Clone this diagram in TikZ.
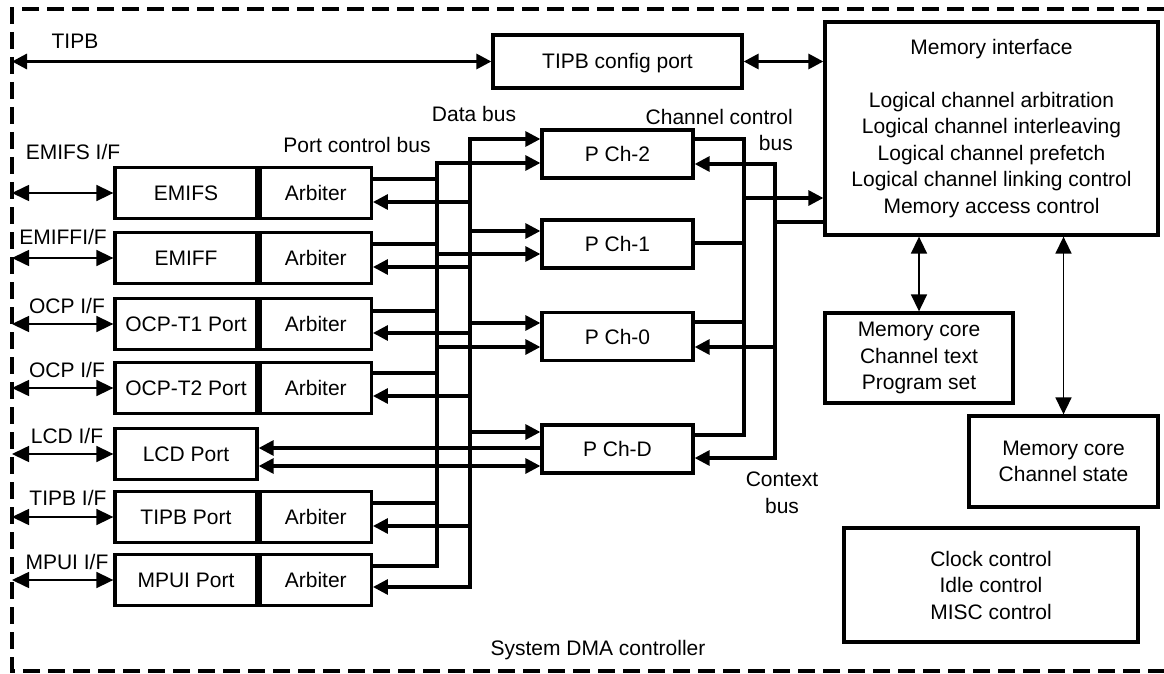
\documentclass[tikz,border=0pt]{standalone}
\usepackage{fontspec}
\setmainfont{Liberation Sans}
\usetikzlibrary{arrows.meta}
\begin{document}
\begin{tikzpicture}[x=1pt,y=-1pt,
  font=\fontsize{21}{26.5}\selectfont,
  >={Triangle[length=15pt,width=15pt]},
  blk/.style={draw,line width=3.3pt,inner sep=0pt},
  one/.style={blk,text height=15pt,text depth=0pt},
  many/.style={blk,align=center},
  port/.style={one,minimum width=142pt,minimum height=51pt},
  arb/.style={one,minimum width=111pt,minimum height=51pt,anchor=west},
  pch/.style={one,minimum width=151pt,minimum height=48pt},
  bus/.style={line width=3.2pt},
  wire/.style={line width=1.6pt,>={Triangle[length=17pt,width=16pt]}},
  lbl/.style={inner sep=0pt,anchor=base},
  frame/.style={line width=3.2pt,dash pattern=on 17pt off 8pt}]

\useasboundingbox (0,0) rectangle (1164,674);

% controller boundary
\draw[frame] (1164,9) -- (12,9) -- (12,671) -- (1164,671);
\coordinate (frameL) at (12,0);

% port blocks
\node[port] (emifs) at (186,193) {EMIFS};
\node[arb]  (arbA) at (emifs.east) {Arbiter};
\node[port] (emiff) at (186,258) {EMIFF};
\node[arb]  (arbB) at (emiff.east) {Arbiter};
\node[port] (ocpa) at (186,324) {OCP-T1 Port};
\node[arb]  (arbC) at (ocpa.east) {Arbiter};
\node[port] (ocpb) at (186,388) {OCP-T2 Port};
\node[arb]  (arbD) at (ocpb.east) {Arbiter};
\node[port] (lcd) at (186,454) {LCD Port};
\node[port] (tipbp) at (186,517) {TIPB Port};
\node[arb]  (arbE) at (tipbp.east) {Arbiter};
\node[port] (mpui) at (186,580) {MPUI Port};
\node[arb]  (arbF) at (mpui.east) {Arbiter};

% interface labels
\node[lbl] (tipbLbl) at (75,49) {TIPB};
\node[lbl] (lA) at (73,160) {EMIFS I/F};
\node[lbl] (lB) at (63,244) {EMIFFI/F};
\node[lbl] (lC) at (67,313) {OCP I/F};
\node[lbl] (lD) at (67,377) {OCP I/F};
\node[lbl] (lE) at (67,443) {LCD I/F};
\node[lbl] (lF) at (68,505) {TIPB I/F};
\node[lbl] (lG) at (67,569) {MPUI I/F};

% external interfaces
\foreach \p in {emifs,emiff,ocpa,ocpb,lcd,tipbp,mpui}
  \draw[wire,<->] (\p.west -| frameL) -- (\p.west);

% physical channels
\node[pch] (pch2) at (617.5,154) {P Ch-2};
\node[pch] (pch1) at (617.5,244) {P Ch-1};
\node[pch] (pch0) at (617.5,336.5) {P Ch-0};
\node[pch] (pchd) at (617.5,449) {P Ch-D};

% TIPB configuration path
\node[one,minimum width=249pt,minimum height=53pt] (cfg) at (617.5,61.5) {TIPB config port};
\node[many,minimum width=333pt,minimum height=213pt] (mi) at (991.5,128.5)
  {Memory interface\\[26.5pt]Logical channel arbitration\\Logical channel interleaving\\
   Logical channel prefetch\\Logical channel linking control\\Memory access control};
\coordinate (tipbL) at (12,61.5);
\draw[bus,<->] (tipbL) -- (cfg.west);
\draw[bus,<->] (cfg.east) -- (cfg.east -| mi.west);

% memories and misc
\node[many,minimum width=188pt,minimum height=90pt] (mc1) at (919,358)
  {Memory core\\Channel text\\Program set};
\node[many,minimum width=189pt,minimum height=91pt] (mc2) at (1063.5,461.5)
  {Memory core\\Channel state};
\node[many,minimum width=294pt,minimum height=114pt] (clk) at (991,585)
  {Clock control\\Idle control\\MISC control};
\draw[wire,<->] (mc1.north |- mi.south) -- (mc1.north);
\draw[wire,<->] (mc2.north |- mi.south) -- (mc2.north);

% port control bus (x=437) and data bus (x=470)
\foreach \a/\u/\l in {arbA/179/202, arbB/244/267, arbC/311/333, arbD/373/396, arbE/503/526} {
  \coordinate (cu) at (437,\u);
  \coordinate (dl) at (470,\l);
  \draw[bus] (\a.east |- cu) -- (cu);
  \draw[bus,->] (dl) -- (\a.east |- dl);
}
\coordinate (cTop) at (437,163);
\coordinate (cBot) at (437,566);
\coordinate (dTop) at (470,139);
\coordinate (dBot) at (470,587);
\draw[bus,->] (arbF.east |- cBot) -- (cBot) -- (cTop) -- (pch2.west |- cTop);
\draw[bus,<->] (arbF.east |- dBot) -- (dBot) -- (dTop) -- (pch2.west |- dTop);
\foreach \c/\y in {pch1/231, pch0/323, pchd/432} {
  \coordinate (dj) at (470,\y);
  \draw[bus,->] (dj) -- (\c.west |- dj);
}
\foreach \c/\y in {pch1/254, pch0/347} {
  \coordinate (cj) at (437,\y);
  \draw[bus,->] (cj) -- (\c.west |- cj);
}

% LCD port to P Ch-D
\coordinate (lcdA) at (400,448);
\coordinate (lcdB) at (400,466);
\draw[bus,<-] (lcd.east |- lcdA) -- (pchd.west |- lcdA);
\draw[bus,<->] (lcd.east |- lcdB) -- (pchd.west |- lcdB);

% channel control bus (x=744)
\coordinate (kTop) at (744,139);
\coordinate (kBot) at (744,435);
\draw[bus] (pch2.east |- kTop) -- (kTop) -- (kBot) -- (pchd.east |- kBot);
\foreach \c/\y in {pch1/243, pch0/322} {
  \coordinate (kj) at (744,\y);
  \draw[bus] (\c.east |- kj) -- (kj);
}
\coordinate (kOut) at (742,198);
\draw[bus,->] (kOut) -- (mi.west |- kOut);

% context bus (x=775)
\coordinate (xTop) at (775,164);
\coordinate (xBot) at (775,458);
\draw[bus,<->] (pch2.east |- xTop) -- (xTop) -- (xBot) -- (pchd.east |- xBot);
\coordinate (xj) at (775,347);
\draw[bus,->] (xj) -- (pch0.east |- xj);
\coordinate (xOut) at (775,222);
\draw[bus] (xOut) -- (mi.west |- xOut);

% bus labels
\node[lbl] (pcb) at (357,152) {Port control bus};
\node[lbl] (db) at (474,122) {Data bus};
\node[inner sep=0pt,align=right,anchor=north east] (ccb) at (793,109) {Channel control\\bus};
\node[inner sep=0pt,align=center,anchor=north] (ctx) at (782,472) {Context\\bus};
\node[lbl] (sys) at (598,655) {System DMA controller};
\end{tikzpicture}
\end{document}
